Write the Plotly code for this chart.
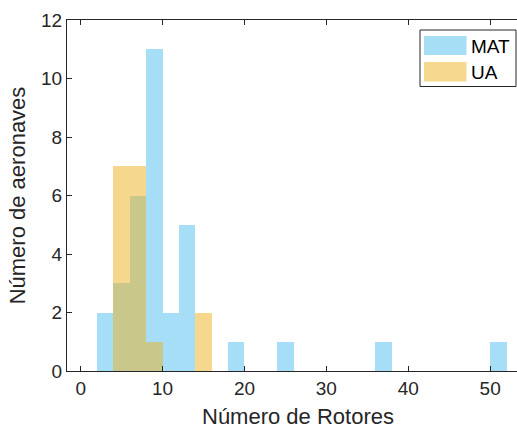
import plotly.graph_objects as go

# Histogram counts per 2-rotor bin (left bin edges)
bin_width = 2
mat_edges = [2, 4, 6, 8, 10, 12, 18, 24, 36, 50]
mat_counts = [2, 3, 6, 11, 2, 5, 1, 1, 1, 1]
ua_edges = [4, 6, 8, 14]
ua_counts = [7, 7, 1, 2]

x_ticks = [0, 10, 20, 30, 40, 50]
y_ticks = [0, 2, 4, 6, 8, 10, 12]

BLUE = "rgb(77,190,238)"
ORANGE = "rgb(237,177,32)"
AXIS = "#262626"
FONT = "Liberation Sans, Arial, Helvetica, sans-serif"

W, H = 517, 429
L, R, T, B = 67, 0, 20, 58
PW, PH = W - L - R, H - T - B


def px(xp):
    return (xp - L) / PW


def py(yp):
    return (H - B - yp) / PH


fig = go.Figure()
fig.add_trace(go.Bar(
    x=[e + bin_width / 2 for e in mat_edges], y=mat_counts, width=bin_width,
    marker=dict(color=BLUE, line=dict(width=0)), opacity=0.5, name="MAT",
))
fig.add_trace(go.Bar(
    x=[e + bin_width / 2 for e in ua_edges], y=ua_counts, width=bin_width,
    marker=dict(color=ORANGE, line=dict(width=0)), opacity=0.5, name="UA",
))

# Legend box with wide colour swatches
shapes = [
    dict(type="rect", xref="paper", yref="paper", x0=px(420), x1=px(516),
         y0=py(86.5), y1=py(30), line=dict(color=AXIS, width=1), fillcolor="white"),
    dict(type="rect", xref="paper", yref="paper", x0=px(424), x1=px(466.5),
         y0=py(55), y1=py(36), line=dict(width=0), fillcolor="rgba(77,190,238,0.5)"),
    dict(type="rect", xref="paper", yref="paper", x0=px(424), x1=px(466.5),
         y0=py(81.5), y1=py(62), line=dict(width=0), fillcolor="rgba(237,177,32,0.5)"),
]
annotations = [
    dict(xref="paper", yref="paper", x=px(469), y=py(46), text="MAT", showarrow=False,
         xanchor="left", yanchor="middle", font=dict(family=FONT, size=19, color="black")),
    dict(xref="paper", yref="paper", x=px(469), y=py(72), text="UA", showarrow=False,
         xanchor="left", yanchor="middle", font=dict(family=FONT, size=19, color="black")),
    # x-axis title
    dict(xref="paper", yref="paper", x=px(297.5), y=py(416.5), text="Número de Rotores",
         showarrow=False, xanchor="center", yanchor="middle", borderpad=0,
         font=dict(family=FONT, size=22, color=AXIS)),
]

fig.update_layout(
    width=W, height=H,
    margin=dict(l=L, r=R, t=T, b=B),
    barmode="overlay", bargap=0,
    showlegend=False,
    plot_bgcolor="white", paper_bgcolor="white",
    font=dict(family=FONT, size=19, color=AXIS),
    shapes=shapes, annotations=annotations,
)
fig.update_xaxes(
    range=[-1.67, 53.28], tickvals=x_ticks, ticks="inside", ticklen=5,
    tickcolor=AXIS, showline=True, linecolor=AXIS, linewidth=1, mirror="ticks",
    showgrid=False, zeroline=False, tickfont=dict(size=19, color=AXIS),
)
fig.update_yaxes(
    range=[0, 12], tickvals=y_ticks, ticks="inside", ticklen=5,
    tickcolor=AXIS, showline=True, linecolor=AXIS, linewidth=1, mirror=False,
    showgrid=False, zeroline=False, tickfont=dict(size=19, color=AXIS),
    title=dict(text="Número de aeronaves", font=dict(size=22, color=AXIS), standoff=9),
)

fig.write_html("out.html")
